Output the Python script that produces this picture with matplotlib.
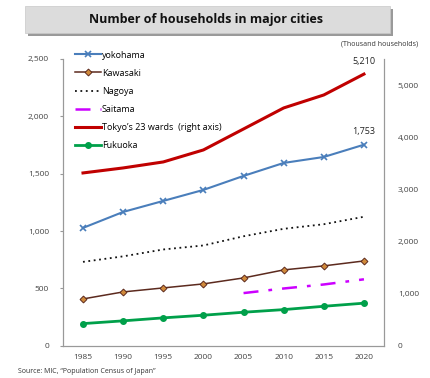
import matplotlib.pyplot as plt
from matplotlib.patches import Rectangle
import numpy as np

years = ["1985", "1990", "1995", "2000", "2005", "2010", "2015", "2020"]
yokohama = [1028, 1167, 1263, 1359, 1481, 1594, 1646, 1753]
kawasaki = [409, 470, 505, 540, 592, 662, 697, 740]
nagoya = [732, 780, 840, 875, 955, 1020, 1060, 1125]
saitama_years = ["2005", "2010", "2015", "2020"]
saitama = [460, 500, 535, 580]
tokyo23 = [3315, 3411, 3526, 3756, 4158, 4561, 4810, 5210]
fukuoka = [194, 218, 244, 267, 293, 316, 345, 372]

plt.rcParams['font.family'] = ['Open Sans', 'DejaVu Sans']

fig = plt.figure(figsize=(4.31, 3.78), dpi=100)

# title box with shadow
fig.patches.append(Rectangle((0.064, 0.905), 0.847, 0.07, transform=fig.transFigure,
                             facecolor="#9a9a9a", edgecolor="none", zorder=0))
fig.patches.append(Rectangle((0.058, 0.913), 0.847, 0.07, transform=fig.transFigure,
                             facecolor="#dcdcdc", edgecolor="#c8c8c8", lw=0.5, zorder=1))
fig.text(0.478, 0.948, "Number of households in major cities", ha="center", va="center",
         fontsize=9, fontweight="bold", color="#111111")

ax = fig.add_axes([0.146, 0.085, 0.745, 0.759])
ax2 = ax.twinx()
x = np.arange(len(years))
xs = np.array([years.index(y) for y in saitama_years])

l1, = ax.plot(x, yokohama, color="#4a7ebb", lw=1.5, marker="x", ms=5, mew=1.2, label="yokohama")
l2, = ax.plot(x, kawasaki, color="#5c2a1e", lw=1.1, marker="D", ms=3.5, mfc="#d08a3a",
              mec="#5c2a1e", mew=0.7, label="Kawasaki")
l3, = ax.plot(x, nagoya, color="#111111", lw=1.3, ls=(0, (1, 2)), label="Nagoya")
l4, = ax.plot(xs, saitama, color="#cc00ff", lw=1.8, ls=(0, (6, 4, 1.5, 4)), label="Saitama")
l5, = ax2.plot(x, tokyo23, color="#c00000", lw=2.2, label="Tokyo\u2019s 23 wards  (right axis)")
l6, = ax.plot(x, fukuoka, color="#00a04a", lw=2, marker="o", ms=4, label="Fukuoka")

ax.set_xlim(-0.5, len(years) - 0.5)
ax.set_ylim(0, 2500)
ax2.set_ylim(0, 5500)
ax.set_yticks([0, 500, 1000, 1500, 2000, 2500])
ax.set_yticklabels(["0", "500", "1,000", "1,500", "2,000", "2,500"])
ax2.set_yticks([0, 1000, 2000, 3000, 4000, 5000])
ax2.set_yticklabels(["0", "1,000", "2,000", "3,000", "4,000", "5,000"])
ax.set_xticks(x)
ax.set_xticklabels(years)

for a in (ax, ax2):
    a.spines["top"].set_visible(False)
    for s in a.spines.values():
        s.set_color("#999999")
        s.set_linewidth(0.8)
    a.tick_params(labelsize=6, colors="#444444", length=0, pad=10)
ax.tick_params(axis="y", length=2, color="#999999", pad=8)
ax.tick_params(axis="x", pad=6)
ax2.tick_params(axis="y", pad=10)

ax2.annotate("5,210", (x[-1], tokyo23[-1]), xytext=(0, 6), textcoords="offset points",
             ha="center", va="bottom", fontsize=6.5, color="#222222")
ax.annotate("1,753", (x[-1], yokohama[-1]), xytext=(0, 6), textcoords="offset points",
            ha="center", va="bottom", fontsize=6.5, color="#222222")

fig.legend(handles=[l1, l2, l3, l4, l5, l6], loc="upper left", bbox_to_anchor=(0.163, 0.878),
           frameon=False, fontsize=6.5, handlelength=2.9, handletextpad=0.1,
           labelspacing=1.0, borderpad=0)

fig.text(0.97, 0.883, "(Thousand households)", ha="right", va="center", fontsize=5, color="#333333")
fig.text(0.042, 0.016, "Source: MIC, \u201cPopulation Census of Japan\u201d", ha="left", va="center",
         fontsize=5, color="#333333")

fig.savefig("out.png", dpi=100)
